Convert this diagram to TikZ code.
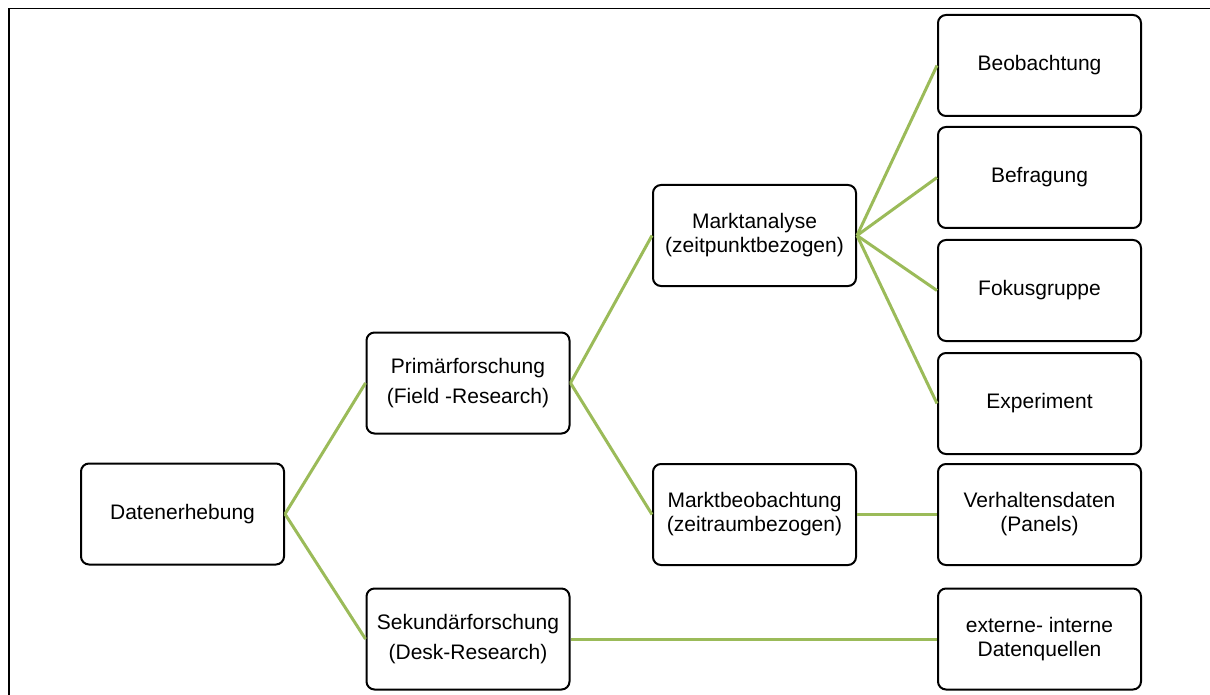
\documentclass[tikz,border=0pt]{standalone}
\usepackage{fontspec}
\setmainfont{Liberation Sans}
\definecolor{lgreen}{RGB}{155,187,89}
\tikzset{
  box/.style={draw=black, line width=2pt, rounded corners=8pt, fill=white,
    minimum width=203pt, minimum height=101pt, inner sep=0pt, align=center,
    font=\fontsize{21}{24}\selectfont},
  wide/.style={font=\fontsize{21}{30}\selectfont},
  link/.style={draw=lgreen, line width=3pt}
}
\begin{document}
\begin{tikzpicture}[x=1pt,y=-1pt]
\useasboundingbox (0,0) rectangle (1210,695);
\draw[line width=1.6pt] (9,695) -- (9,8.5) -- (1210,8.5);
\node[box] (dat) at (182.5,514) {Datenerhebung};
\node[box,wide] (prim) at (468,383) {Primärforschung\\(Field -Research)};
\node[box,wide] (sek) at (468,639) {Sekundärforschung\\(Desk-Research)};
\node[box] (mana) at (754.5,235.5) {Marktanalyse\\(zeitpunktbezogen)};
\node[box] (mbeob) at (754.5,514.5) {Marktbeobachtung\\(zeitraumbezogen)};
\node[box] (beo) at (1039.5,65.5) {Beobachtung};
\node[box] (bef) at (1039.5,177.5) {Befragung};
\node[box] (fok) at (1039.5,290.5) {Fokusgruppe};
\node[box] (exp) at (1039.5,403.5) {Experiment};
\node[box] (verh) at (1039.5,514.5) {Verhaltensdaten\\(Panels)};
\node[box] (ext) at (1039.5,639) {externe- interne\\Datenquellen};
\draw[link] (dat.east) -- (prim.west);
\draw[link] (dat.east) -- (sek.west);
\draw[link] (prim.east) -- (mana.west);
\draw[link] (prim.east) -- (mbeob.west);
\draw[link] (mana.east) -- (beo.west);
\draw[link] (mana.east) -- (bef.west);
\draw[link] (mana.east) -- (fok.west);
\draw[link] (mana.east) -- (exp.west);
\draw[link] (mbeob.east) -- (verh.west);
\draw[link] (sek.east) -- (ext.west);
\end{tikzpicture}
\end{document}
